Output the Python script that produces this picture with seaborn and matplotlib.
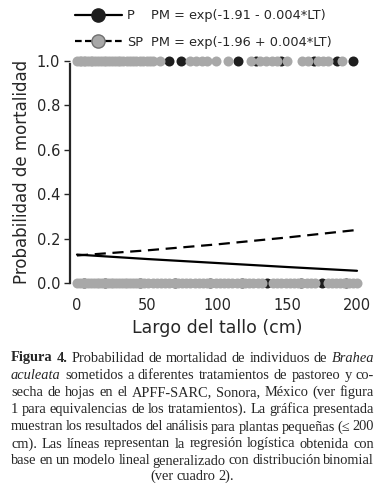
import numpy as np
import pandas as pd
import matplotlib
matplotlib.use("Agg")
import matplotlib.pyplot as plt
import seaborn as sns
from matplotlib.lines import Line2D

sns.set_style("ticks")
plt.rcParams['font.family'] = ['DejaVu Sans']

# ---- data ----
# dead plants (mortality = 1)
sp_dead_x = [0, 2, 3, 5, 6, 8, 10, 11, 13, 15, 17, 19, 21, 23, 25, 27, 29, 31, 33, 36,
             38, 40, 42, 45, 47, 50, 52, 54, 59, 81, 85, 89, 93, 99, 108, 124, 131,
             135, 139, 143, 150, 161, 165, 172, 176, 179, 189]
p_dead_x = [66, 74, 115, 128, 146, 169, 186, 197]
# living plants (mortality = 0)
sp_alive_x = [0, 2, 4, 6, 8, 10, 12, 14, 16, 18, 20, 22, 24, 26, 28, 30, 32, 34, 36, 38,
              40, 42, 44, 46, 48, 51, 54, 57, 60, 63, 66, 69, 72, 75, 78, 81, 84, 87,
              90, 93, 96, 99, 102, 105, 108, 111, 114, 117, 120, 123, 126, 129, 132,
              140, 143, 146, 149, 152, 155, 158, 161, 164, 167, 170, 179, 182, 185,
              188, 191, 194, 197, 200]
p_alive_x = [5, 20, 45, 70, 95, 118, 136, 160, 175, 192]
# fitted curves
curve_x = [0, 50, 100, 150, 200]
p_curve = [0.128, 0.108, 0.090, 0.072, 0.055]
sp_curve = [0.124, 0.147, 0.174, 0.205, 0.239]

legend_labels = ["P", "SP"]
legend_equations = ["PM = exp(-1.91 - 0.004*LT)", "PM = exp(-1.96 + 0.004*LT)"]
xticks = [0, 50, 100, 150, 200]
yticks = [0.0, 0.2, 0.4, 0.6, 0.8, 1.0]

caption = [
    [("Figura 4.", "bold"), ("Probabilidad de mortalidad de individuos de", "normal"), ("Brahea", "italic")],
    [("aculeata", "italic"), ("sometidos a diferentes tratamientos de pastoreo y co-", "normal")],
    [("secha de hojas en el APFF-SARC, Sonora, México (ver figura", "normal")],
    [("1 para equivalencias de los tratamientos). La gráfica presentada", "normal")],
    [("muestran los resultados del análisis para plantas pequeñas (≤ 200", "normal")],
    [("cm). Las líneas representan la regresión logística obtenida con", "normal")],
    [("base en un modelo lineal generalizado con distribución binomial", "normal")],
    [("(ver cuadro 2).", "normal")],
]

GRAY = "#a8a8a8"
DARK = "#1e1e1e"

fig = plt.figure(figsize=(3.84, 4.83), dpi=100)
W, H = 384, 483
# axes: x 0->77px, 200->357px ; y 1.0->61px, 0.0->283px
xlo, xhi = -5, 205
ylo, yhi = -0.03, 1.03
pxx = 280 / 200
pxy = 222 / 1.0
left = 77 + xlo * pxx
right = 77 + xhi * pxx
top = 61 - (yhi - 1.0) * pxy
bottom = 283 - ylo * pxy
ax = fig.add_axes([left / W, 1 - bottom / H, (right - left) / W, (bottom - top) / H])

pts = pd.DataFrame({
    "x": p_dead_x + p_alive_x,
    "y": [1.0] * len(p_dead_x) + [0.0] * len(p_alive_x),
})
spts = pd.DataFrame({
    "x": sp_dead_x + sp_alive_x,
    "y": [1.0] * len(sp_dead_x) + [0.0] * len(sp_alive_x),
})
sns.scatterplot(data=pts, x="x", y="y", ax=ax, color=DARK, s=52, linewidth=0, zorder=3, clip_on=False)
sns.scatterplot(data=spts, x="x", y="y", ax=ax, color=GRAY, s=52, linewidth=0, zorder=4, clip_on=False)

cur = pd.DataFrame({"x": curve_x, "p": p_curve, "sp": sp_curve})
sns.lineplot(data=cur, x="x", y="p", ax=ax, color="black", lw=1.6, zorder=5)
sns.lineplot(data=cur, x="x", y="sp", ax=ax, color="black", lw=1.6, ls=(0, (5, 3)), zorder=5)

ax.set_xlim(xlo, xhi)
ax.set_ylim(ylo, yhi)
ax.set_xticks(xticks)
ax.set_yticks(yticks)
ax.set_xticklabels([str(t) for t in xticks], fontsize=10.5)
ax.set_yticklabels([f"{t:.1f}" for t in yticks], fontsize=10.5)
ax.tick_params(axis="x", length=0, pad=6)
ax.tick_params(axis="y", length=4, width=1, pad=3)
sns.despine(ax=ax, bottom=True)
ax.spines["left"].set_bounds(0.0, 0.985)
ax.spines["left"].set_linewidth(1.6)
ax.set_xlabel("Largo del tallo (cm)", fontsize=12.5, labelpad=4)
ax.set_ylabel("Probabilidad de mortalidad", fontsize=12, labelpad=4)
ax.patch.set_alpha(0)

handles = [
    Line2D([], [], color="black", lw=1.6, marker="o", ms=9.5, mfc=DARK, mec=DARK),
    Line2D([], [], color="black", lw=1.6, ls=(0, (3, 1.5)), marker="o", ms=9.5, mfc=GRAY, mec="#707070"),
]
leg = fig.legend(handles, legend_labels, loc="upper left", bbox_to_anchor=(66 / W, 1 - 0 / H),
                 frameon=False, fontsize=9.3, handlelength=3.6, labelspacing=1.05,
                 handletextpad=0.4, borderpad=0.2)

renderer = fig.canvas.get_renderer()
fig.canvas.draw()
for lt, eq in zip(leg.get_texts(), legend_equations):
    bb = lt.get_window_extent(renderer)
    yc = (bb.y0 + bb.y1) / 2
    fig.text(151 / W, yc / H, eq, fontsize=9.3, va="center", ha="left")

# caption, justified word by word
cap_left, cap_right = 11, 374
line_y = [358, 375.5, 392.5, 409.5, 427, 444, 461, 476]
fprops = dict(family="Liberation Serif", size=10.4)


def word_list(line):
    out = []
    for chunk, style in line:
        for w in chunk.split(" "):
            out.append((w, style))
    return out


for i, line in enumerate(caption):
    words = word_list(line)
    texts = []
    for w, style in words:
        kw = dict(fprops)
        if style == "bold":
            kw["weight"] = "bold"
        elif style == "italic":
            kw["style"] = "italic"
        t = fig.text(0, 1 - line_y[i] / H, w, va="center", ha="left", **kw)
        texts.append(t)
    widths = [t.get_window_extent(renderer).width for t in texts]
    if i == len(caption) - 1:
        total = sum(widths) + 3.0 * (len(words) - 1)
        x = (W - total) / 2
        for t, wd in zip(texts, widths):
            t.set_x(x / W)
            x += wd + 3.0
    else:
        gap = (cap_right - cap_left - sum(widths)) / max(len(words) - 1, 1)
        x = cap_left
        for t, wd in zip(texts, widths):
            t.set_x(x / W)
            x += wd + gap

fig.savefig("out.png", dpi=100)
